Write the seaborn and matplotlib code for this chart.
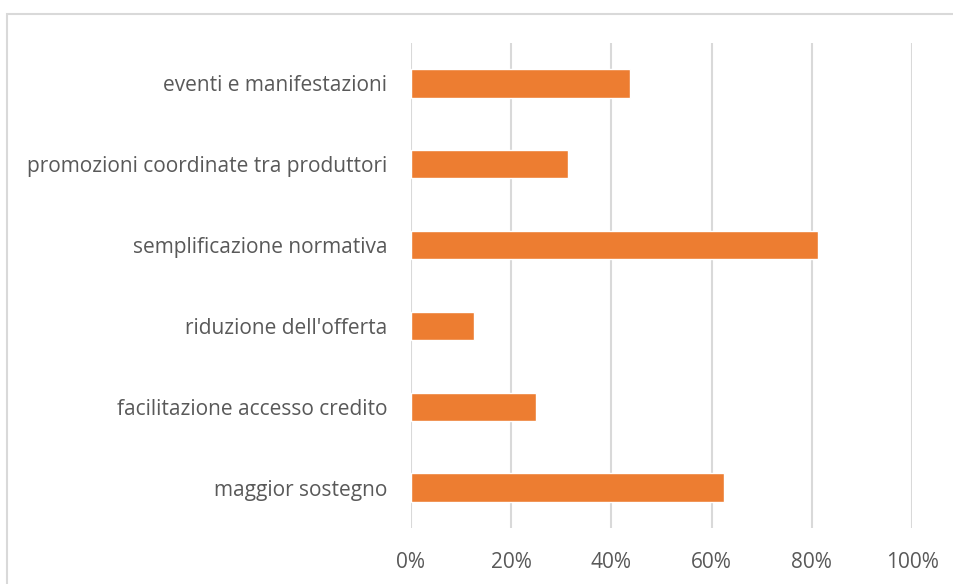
import matplotlib
matplotlib.use("Agg")
import matplotlib.pyplot as plt
from matplotlib.patches import Rectangle
from matplotlib.ticker import FuncFormatter, MultipleLocator
import seaborn as sns
import pandas as pd

categories = [
    "eventi e manifestazioni",
    "promozioni coordinate tra produttori",
    "semplificazione normativa",
    "riduzione dell'offerta",
    "facilitazione accesso credito",
    "maggior sostegno",
]
shares = [0.4375, 0.3125, 0.8125, 0.125, 0.25, 0.625]

df = pd.DataFrame({"voce": categories, "quota": shares})

sns.set_theme(style="white")
plt.rcParams["font.family"] = ["Open Sans", "DejaVu Sans"]

TEXT = "#595959"
GRID = "#D9D9D9"
BAR = "#ED7D31"

fig = plt.figure(figsize=(9.54, 5.84), dpi=100)
W, H = 954, 584
ax = fig.add_axes([411 / W, 1 - 528 / H, (912 - 411) / W, (528 - 43) / H])

sns.barplot(data=df, x="quota", y="voce", orient="h", color=BAR,
            width=0.35, saturation=1, ax=ax, zorder=3)

ax.set_xlim(0, 1.0)
ax.set_ylim(len(categories) - 0.5, -0.5)
ax.xaxis.set_major_locator(MultipleLocator(0.2))
ax.xaxis.set_major_formatter(FuncFormatter(lambda v, _: f"{v * 100:.0f}%"))
ax.grid(axis="x", color=GRID, linewidth=1.5, zorder=0)
ax.grid(axis="y", visible=False)
ax.set_axisbelow(True)
for s in ax.spines.values():
    s.set_visible(False)
ax.set_xlabel("")
ax.set_ylabel("")
ax.tick_params(axis="x", length=0, pad=17.5, labelsize=15, labelcolor=TEXT)
ax.tick_params(axis="y", length=0, pad=17, labelsize=15, labelcolor=TEXT)

# outer chart frame
fig.patches.append(Rectangle((7 / W, -0.1), 1.2, 1 - 14 / H + 0.1,
                             transform=fig.transFigure, fill=False,
                             edgecolor=GRID, linewidth=1.5, zorder=0))

fig.savefig("out.png", dpi=100)
